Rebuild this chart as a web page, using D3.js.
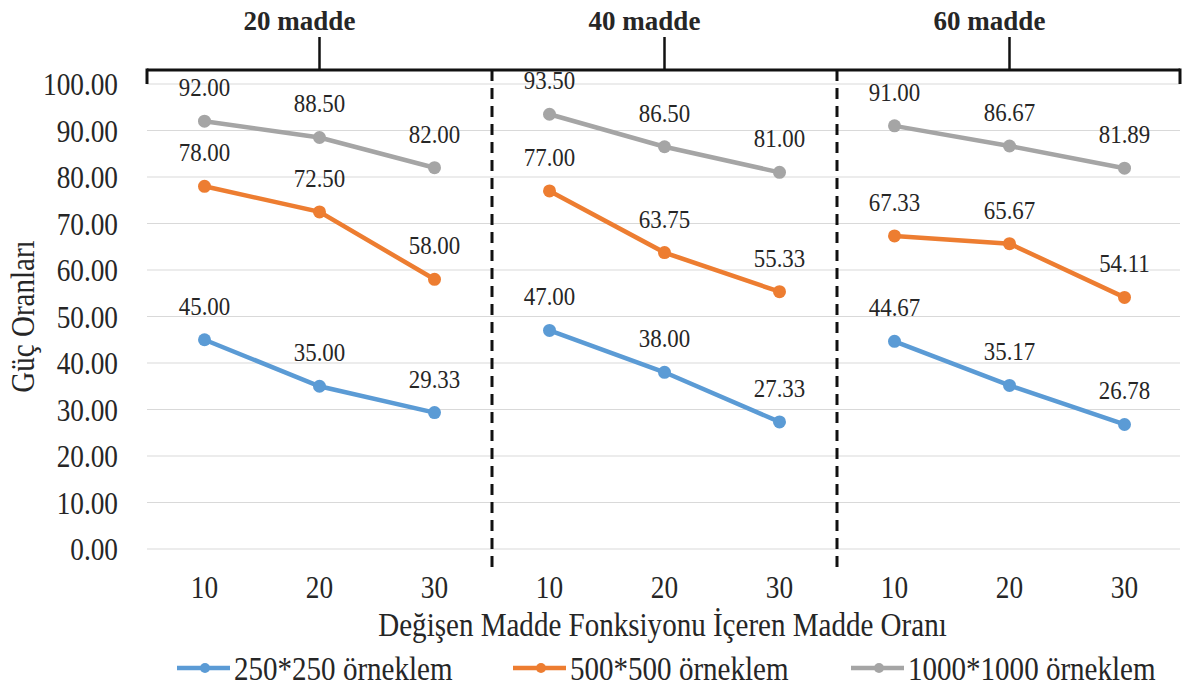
<!DOCTYPE html>
<html lang="tr">
<head>
<meta charset="UTF-8">
<title>Güç Oranları</title>
<script src="https://cdn.jsdelivr.net/npm/d3@7"></script>
<style>
    body { margin: 0; background: #fff; }
    svg text { font-family: "Liberation Serif", "DejaVu Serif", serif; fill: #262626; }
    .axis path, .axis line { display: none; }
    .grid line { stroke: #d9d9d9; stroke-width: 1; }
</style>
</head>
<body>
<svg id="chart"></svg>
<script>
    // veri
    var groups = ["20 madde", "40 madde", "60 madde"];
    var oranlar = ["10", "20", "30"];
    var seriesNames = ["250*250 örneklem", "500*500 örneklem", "1000*1000 örneklem"];
    var s250 = [45.00, 35.00, 29.33, 47.00, 38.00, 27.33, 44.67, 35.17, 26.78];
    var s500 = [78.00, 72.50, 58.00, 77.00, 63.75, 55.33, 67.33, 65.67, 54.11];
    var s1000 = [92.00, 88.50, 82.00, 93.50, 86.50, 81.00, 91.00, 86.67, 81.89];
    var yTicks = [0, 10, 20, 30, 40, 50, 60, 70, 80, 90, 100];
    var colors = ["#5b9bd5", "#ed7d31", "#a5a5a5"];

    var W = 1182, H = 686;
    var mLeft = 147, mRight = 1182, mTop = 84, mBottom = 549;
    var SX = 0.88;   // yazılar resimde biraz dar

    var svg = d3.select("#chart").attr("width", W).attr("height", H);

    var idx = d3.range(groups.length * oranlar.length);
    var x = d3.scaleBand().domain(idx).range([mLeft, mRight]);
    var y = d3.scaleLinear().domain([0, 100]).range([mBottom, mTop]);
    var step = x.step();

    // yazıyı kendi x noktası etrafında daralt
    function squish(sel) {
        sel.each(function () {
            var t = d3.select(this);
            var tx = +t.attr("x") || 0;
            t.attr("transform", "translate(" + tx + ",0) scale(" + SX + ",1) translate(" + (-tx) + ",0)");
        });
    }

    // yatay ızgara
    svg.append("g").attr("class", "grid")
        .selectAll("line").data(yTicks).enter().append("line")
        .attr("x1", mLeft).attr("x2", mRight - 2)
        .attr("y1", function (d) { return y(d); })
        .attr("y2", function (d) { return y(d); });

    // y ekseni
    var yAxis = d3.axisLeft(y).tickValues(yTicks).tickSize(0).tickPadding(0)
        .tickFormat(d3.format(".2f"));
    svg.append("g").attr("class", "axis")
        .attr("transform", "translate(" + (mLeft - 29) + ",0)")
        .call(yAxis)
        .selectAll("text").style("font-size", "31px").attr("dy", "0.35em")
        .call(squish);

    // x ekseni
    var xAxis = d3.axisBottom(x).tickSize(0).tickPadding(0)
        .tickFormat(function (d) { return oranlar[d % oranlar.length]; });
    svg.append("g").attr("class", "axis")
        .attr("transform", "translate(0,587)")
        .call(xAxis)
        .selectAll("text").style("font-size", "31px").attr("y", 0).attr("dy", "0.35em")
        .call(squish);

    // eksen başlıkları
    svg.append("text")
        .attr("x", (mLeft + mRight) / 2 - 2).attr("y", 636)
        .attr("text-anchor", "middle").style("font-size", "33px")
        .text("Değişen Madde Fonksiyonu  İçeren Madde Oranı")
        .call(squish);
    svg.append("text")
        .attr("transform", "translate(34," + ((mTop + mBottom) / 2) + ") rotate(-90) scale(" + SX + ",1)")
        .attr("text-anchor", "middle").style("font-size", "33px")
        .text("Güç Oranları");

    // üst köşeli ayraç ve gruplar
    var bracketY = 70;
    svg.append("line")
        .attr("x1", mLeft).attr("x2", mRight - 2)
        .attr("y1", bracketY).attr("y2", bracketY)
        .attr("stroke", "#111").attr("stroke-width", 3);
    [mLeft, mRight - 2].forEach(function (px) {
        svg.append("line")
            .attr("x1", px).attr("x2", px)
            .attr("y1", bracketY - 1.5).attr("y2", bracketY + 14)
            .attr("stroke", "#111").attr("stroke-width", 3);
    });
    groups.forEach(function (g, gi) {
        var cx = x(gi * 3 + 1) + step / 2;
        svg.append("line")
            .attr("x1", cx).attr("x2", cx)
            .attr("y1", 37).attr("y2", bracketY)
            .attr("stroke", "#111").attr("stroke-width", 2.5);
        svg.append("text")
            .attr("x", cx - 20).attr("y", 30)
            .attr("text-anchor", "middle")
            .style("font-size", "27px").style("font-weight", "bold")
            .text(g);
        if (gi > 0) {
            var dx = x(gi * 3);
            svg.append("line")
                .attr("x1", dx).attr("x2", dx)
                .attr("y1", bracketY).attr("y2", 574)
                .attr("stroke", "#111").attr("stroke-width", 3)
                .attr("stroke-dasharray", "11,7");
        }
    });

    // seriler
    var allSeries = [s250, s500, s1000];
    var line = d3.line()
        .x(function (d) { return x(d.i) + step / 2; })
        .y(function (d) { return y(d.v); });

    allSeries.forEach(function (s, si) {
        var pts = s.map(function (v, i) { return { i: i, v: v }; });
        groups.forEach(function (g, gi) {
            svg.append("path")
                .datum(pts.slice(gi * 3, gi * 3 + 3))
                .attr("d", line)
                .attr("fill", "none")
                .attr("stroke", colors[si])
                .attr("stroke-width", 4.5);
        });
        svg.selectAll(".pt" + si).data(pts).enter().append("circle")
            .attr("cx", function (d) { return x(d.i) + step / 2; })
            .attr("cy", function (d) { return y(d.v); })
            .attr("r", 6.5)
            .attr("fill", colors[si]);
        svg.selectAll(".lbl" + si).data(pts).enter().append("text")
            .attr("x", function (d) { return x(d.i) + step / 2; })
            .attr("y", function (d) { return y(d.v) - 25; })
            .attr("text-anchor", "middle")
            .style("font-size", "26px")
            .text(function (d) { return d.v.toFixed(2); })
            .call(squish);
    });

    // lejant
    var legendX = [177, 513, 851];
    seriesNames.forEach(function (n, si) {
        var lg = svg.append("g").attr("transform", "translate(" + legendX[si] + ",668)");
        lg.append("line").attr("x1", 0).attr("x2", 53).attr("y1", 0).attr("y2", 0)
            .attr("stroke", colors[si]).attr("stroke-width", 4.5);
        lg.append("circle").attr("cx", 28).attr("cy", 0).attr("r", 5).attr("fill", colors[si]);
        lg.append("text").attr("x", 57).attr("y", 0).attr("dy", "0.35em")
            .style("font-size", "33px").text(n)
            .call(squish);
    });
</script>
</body>
</html>
